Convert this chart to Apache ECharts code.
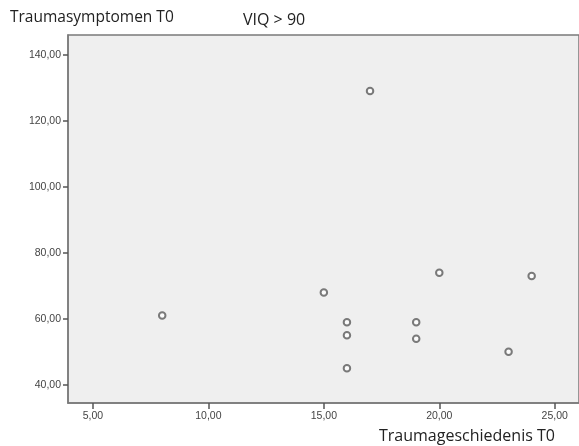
<!DOCTYPE html>
<html>
<head>
<meta charset="utf-8">
<script src="https://cdn.jsdelivr.net/npm/echarts@6/dist/echarts.min.js"></script>
<style>
  html, body { margin: 0; padding: 0; background: #fff; }
  #chart { width: 579px; height: 446px; }
</style>
</head>
<body>
<div id="chart"></div>
<script>
// Traumageschiedenis T0 (x) vs Traumasymptomen T0 (y), VIQ > 90
const traumaHistory = [8, 15, 16, 16, 16, 17, 19, 19, 20, 23, 24]
const traumaSymptoms = [61, 68, 59, 55, 45, 129, 59, 54, 74, 50, 73]
const xTicks = [5, 10, 15, 20, 25]
const yTicks = [40, 60, 80, 100, 120, 140]

const fmt = (v) => v.toFixed(2).replace('.', ',')

const chart = echarts.init(document.getElementById('chart'), null, { renderer: 'canvas' })

const axisColor = '#7a7a7a'
const labelStyle = {
  fontFamily: 'Liberation Sans',
  fontSize: 10.5,
  color: '#444',
}
const titleStyle = (size) => ({
  fontFamily: 'Open Sans',
  fontSize: size,
  fontWeight: 'normal',
  color: '#222',
})

chart.setOption({
  animation: false,
  backgroundColor: '#fff',
  title: [
    { text: 'Traumasymptomen T0', left: 10, top: 10, padding: 0, textStyle: titleStyle(15.5) },
    { text: 'VIQ > 90', left: 243, top: 12, padding: 0, textStyle: titleStyle(16) },
    { text: 'Traumageschiedenis T0', left: 379, top: 428, padding: 0, textStyle: titleStyle(16) },
  ],
  grid: {
    left: 68,
    top: 35,
    right: -3,
    bottom: 43,
    show: true,
    backgroundColor: '#efefef',
    borderColor: axisColor,
    borderWidth: 1.5,
  },
  xAxis: {
    type: 'value',
    min: 3.92,
    max: 26.05,
    splitLine: { show: false },
    axisLine: { show: true, lineStyle: { color: axisColor, width: 1.5 } },
    axisTick: { show: true, length: 6, customValues: xTicks, lineStyle: { color: '#555', width: 1.5 } },
    axisLabel: { ...labelStyle, margin: 8, customValues: xTicks, formatter: fmt },
  },
  yAxis: {
    type: 'value',
    min: 34.5,
    max: 146,
    splitLine: { show: false },
    axisLine: { show: true, lineStyle: { color: axisColor, width: 1.5 } },
    axisTick: { show: true, length: 5, customValues: yTicks, lineStyle: { color: '#555', width: 1.5 } },
    axisLabel: { ...labelStyle, margin: 7, customValues: yTicks, formatter: fmt },
  },
  series: [
    {
      type: 'scatter',
      symbol: 'emptyCircle',
      symbolSize: 6.5,
      itemStyle: { color: '#5a5a5a', borderWidth: 1.6 },
      data: traumaHistory.map((x, i) => [x, traumaSymptoms[i]]),
    },
  ],
})
</script>
</body>
</html>
